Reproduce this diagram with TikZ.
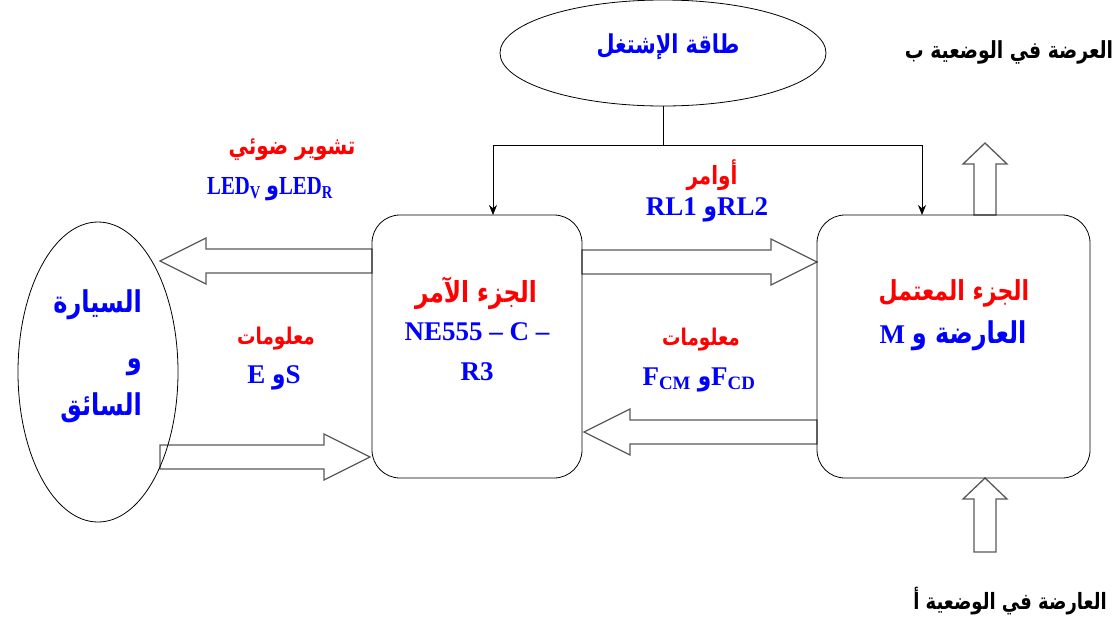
\documentclass[tikz,border=0pt]{standalone}
\usepackage{fontspec}
\setmainfont{Liberation Serif}
\newfontfamily\latc[FakeStretch=0.8]{Liberation Serif}
\newfontfamily\arf[Script=Arabic,FakeStretch=0.8]{DejaVu Sans}
\TeXXeTstate=1
\usetikzlibrary{arrows.meta,shapes.geometric}
\definecolor{ared}{RGB}{255,0,0}
\definecolor{ablue}{RGB}{0,0,255}
\newcommand\AR[1]{{\arf\beginR #1\endR}}
\newcommand\fs[1]{\fontsize{#1}{#1}\selectfont\bfseries}
\newcommand\harr[4]{%
  \draw[blk] (#1,#3-12) -- ({#2-46*(#4)},#3-12) -- ({#2-46*(#4)},#3-23) -- (#2,#3) -- ({#2-46*(#4)},#3+23) -- ({#2-46*(#4)},#3+12) -- (#1,#3+12) -- cycle;}
\newcommand\varr[3]{%
  \draw[blk] (#1-11,#2) -- (#1-11,#3+21) -- (#1-22,#3+21) -- (#1,#3) -- (#1+22,#3+21) -- (#1+11,#3+21) -- (#1+11,#2) -- cycle;}
\begin{document}
\begin{tikzpicture}[x=1pt,y=-1pt,
  box/.style={draw, rounded corners=28pt, line width=0.8pt, inner sep=0pt, outer sep=0pt},
  oval/.style={draw, ellipse, line width=0.8pt, inner sep=0pt, outer sep=0pt},
  blk/.style={draw=black!65, line width=1.3pt, fill=white},
  conn/.style={-{Stealth[length=10pt,width=8pt]}, line width=0.8pt},
  arr/.style={text=ared, inner sep=0pt},
  arb/.style={text=ablue, inner sep=0pt},
  ark/.style={text=black, inner sep=0pt},
  lat/.style={text=ablue, font=\fs{27}, inner sep=0pt}]
\useasboundingbox (0,0) rectangle (1118,622);

% block arrows
\harr{372}{160}{261}{-1}
\harr{160}{370}{457}{1}
\harr{582}{817}{262}{1}
\harr{817}{584}{432}{-1}
\varr{985}{215}{143}
\varr{985}{552}{478}

% main shapes
\node[box, minimum width=210pt, minimum height=263pt] (cmd) at (477,346.5) {};
\node[box, minimum width=273pt, minimum height=263pt] (op) at (953.5,346.5) {};
\node[oval, minimum width=326pt, minimum height=106pt] (pow) at (663,53) {};
\node[oval, minimum width=160pt, minimum height=300pt] (car) at (98,372) {};

% power connectors
\coordinate (jl) at (493,145);
\coordinate (jr) at (922,145);
\draw[line width=0.8pt] (pow.south) -- (pow.south |- jl);
\draw[line width=0.8pt] (jl) -- (jr);
\draw[conn] (jl) -- (jl |- cmd.north);
\draw[conn] (jr) -- (jr |- op.north);

% texts
\node[arb, font=\fs{26}] (tpow) at (668,47) {\AR{طاقة الإشتغل}};
\node[arr, font=\fs{25}] (tsig) at (292,150) {\AR{تشوير ضوئي}};
\node[lat, font=\fs{26}\latc] (tled) at (270,189) {LED\textsubscript{V} \AR{و}LED\textsubscript{R}};
\node[arr, font=\fs{25}] (tord) at (712,175) {\AR{أوامر}};
\node[lat] (trl) at (707,210) {RL1 \AR{و}RL2};
\node[arr, font=\fs{29}] (tcmd) at (476,293) {\AR{الجزء الآمر}};
\node[lat] (tne) at (477,332) {NE555 – C –};
\node[lat] (tr3) at (477,372) {R3};
\node[arr, font=\fs{27.5}] (top) at (954,293) {\AR{الجزء المعتمل}};
\node[lat] (tm) at (953,336) {M {\fs{30}\AR{العارضة و}}};
\node[arr, font=\fs{23}] (tinf1) at (276,339) {\AR{معلومات}};
\node[lat] (tes) at (274,378) {E \AR{و}S};
\node[arr, font=\fs{23}] (tinf2) at (701,340) {\AR{معلومات}};
\node[lat] (tf) at (699,380) {F\textsubscript{CM} \AR{و}F\textsubscript{CD}};
\node[arb, font=\fs{30}, anchor=east] (tcar1) at (142,305) {\AR{السيارة}};
\node[arb, font=\fs{30}, anchor=east] (tcar2) at (142,367) {\AR{و}};
\node[arb, font=\fs{30}, anchor=east] (tcar3) at (142,408) {\AR{السائق}};
\node[ark, font=\fs{23.5}] (tb) at (1009,52) {\AR{العرضة في الوضعية ب}};
\node[ark, font=\fs{22.5}] (ta) at (1010,601) {\AR{العارضة في الوضعية أ}};
\end{tikzpicture}
\end{document}
